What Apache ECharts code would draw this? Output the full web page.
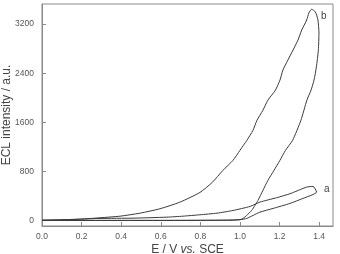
<!DOCTYPE html>
<html>
<head>
<meta charset="utf-8">
<script src="https://cdn.jsdelivr.net/npm/echarts@6/dist/echarts.min.js"></script>
<style>
  html, body { margin: 0; padding: 0; background: #fff; }
  #chart { width: 340px; height: 254px; }
</style>
</head>
<body>
<div id="chart"></div>
<script>
// curve b : potential (V) and ECL intensity (a.u.), in scan order
let bE = [0, 0.2, 0.4, 0.6, 0.8, 0.95, 1.0, 1.015, 1.034, 1.059, 1.076, 1.091, 1.116, 1.141, 1.172, 1.202, 1.230, 1.266, 1.308, 1.338, 1.359, 1.374, 1.386, 1.396, 1.399, 1.394, 1.381, 1.362,
  1.348, 1.337, 1.312, 1.293, 1.268, 1.242, 1.217, 1.202, 1.179, 1.141, 1.116, 1.086, 1.066, 1.035, 1.000, 0.965, 0.914, 0.860, 0.798, 0.697, 0.596, 0.495, 0.394, 0.293, 0.192, 0.091, 0]
let bI = [2, 2, 2, 2, 3, 6, 14, 33, 82, 163, 245, 327, 490, 653, 817, 980, 1143, 1306, 1633, 1960, 2123, 2286, 2499, 2776, 3054, 3266, 3397, 3441,
  3380, 3266, 3103, 2939, 2776, 2613, 2450, 2286, 2123, 1960, 1796, 1633, 1470, 1306, 1143, 980, 817, 620, 457, 299, 191, 119, 70, 44, 21, 8, 3]

// curve a
let aE = [0, 0.2, 0.4, 0.6, 0.8, 0.95, 1.0, 1.034, 1.066, 1.101, 1.167, 1.253, 1.318, 1.364, 1.387, 1.369, 1.337, 1.253, 1.185, 1.101, 1.051, 0.965, 0.884, 0.798, 0.712, 0.631, 0.460, 0.293, 0.14, 0]
let aI = [0, 0, 0, 0, 2, 5, 12, 33, 82, 136, 196, 278, 359, 416, 462, 555, 544, 436, 371, 299, 229, 163, 119, 93, 70, 54, 38, 33, 16, 5]

let xTicks = [0, 0.2, 0.4, 0.6, 0.8, 1.0, 1.2, 1.4]
let yTicks = [0, 800, 1600, 2400, 3200]

let chart = echarts.init(document.getElementById('chart'))

function zip(xs, ys) {
  return xs.map((x, i) => [x, ys[i]])
}

let labelFont = { fontFamily: 'Liberation Sans', fontSize: 8.5, color: '#555' }

chart.setOption({
  animation: false,
  grid: {
    left: 42,
    right: 7,
    top: 4,
    bottom: 28,
    outerBoundsMode: 'none',
    containLabel: false,
    show: true,
    borderColor: '#8a8a8a',
    borderWidth: 1
  },
  xAxis: {
    type: 'value',
    min: 0,
    max: 1.47,
    name: '{n|E / V }{i|vs.}{n| SCE}',
    nameLocation: 'middle',
    nameGap: 18,
    nameMoveOverlap: false,
    nameTextStyle: {
      rich: {
        n: { fontFamily: 'Liberation Sans', fontSize: 12, color: '#444' },
        i: { fontFamily: 'Liberation Sans', fontSize: 12, color: '#444', fontStyle: 'italic' }
      }
    },
    axisLine: { onZero: false, lineStyle: { color: '#8a8a8a' } },
    axisTick: { inside: true, length: 4, customValues: xTicks, lineStyle: { color: '#8a8a8a' } },
    axisLabel: Object.assign({ margin: 6, customValues: xTicks, formatter: v => v.toFixed(1) }, labelFont),
    splitLine: { show: false }
  },
  yAxis: {
    type: 'value',
    min: -90,
    max: 3527,
    name: 'ECL intensity / a.u.',
    nameLocation: 'middle',
    nameGap: 29,
    nameMoveOverlap: false,
    nameTextStyle: { fontFamily: 'Liberation Sans', fontSize: 12, color: '#444' },
    axisLine: { show: true, lineStyle: { color: '#8a8a8a' } },
    axisTick: { show: true, inside: true, length: 4, customValues: yTicks, lineStyle: { color: '#8a8a8a' } },
    axisLabel: Object.assign({ margin: 8, customValues: yTicks, formatter: v => String(v) }, labelFont),
    splitLine: { show: false }
  },
  series: [
    {
      name: 'b',
      type: 'line',
      showSymbol: false,
      smooth: 0.2,
      data: zip(bE, bI),
      lineStyle: { color: '#3a3a3a', width: 1 },
      markPoint: {
        symbolSize: 0,
        label: { show: true, formatter: 'b', fontFamily: 'Liberation Sans', fontSize: 10, color: '#444' },
        data: [{ coord: [1.424, 3331] }]
      }
    },
    {
      name: 'a',
      type: 'line',
      showSymbol: false,
      smooth: 0.2,
      data: zip(aE, aI),
      lineStyle: { color: '#3a3a3a', width: 1 },
      markPoint: {
        symbolSize: 0,
        label: { show: true, formatter: 'a', fontFamily: 'Liberation Sans', fontSize: 10, color: '#444' },
        data: [{ coord: [1.438, 501] }]
      }
    }
  ]
})
</script>
</body>
</html>
